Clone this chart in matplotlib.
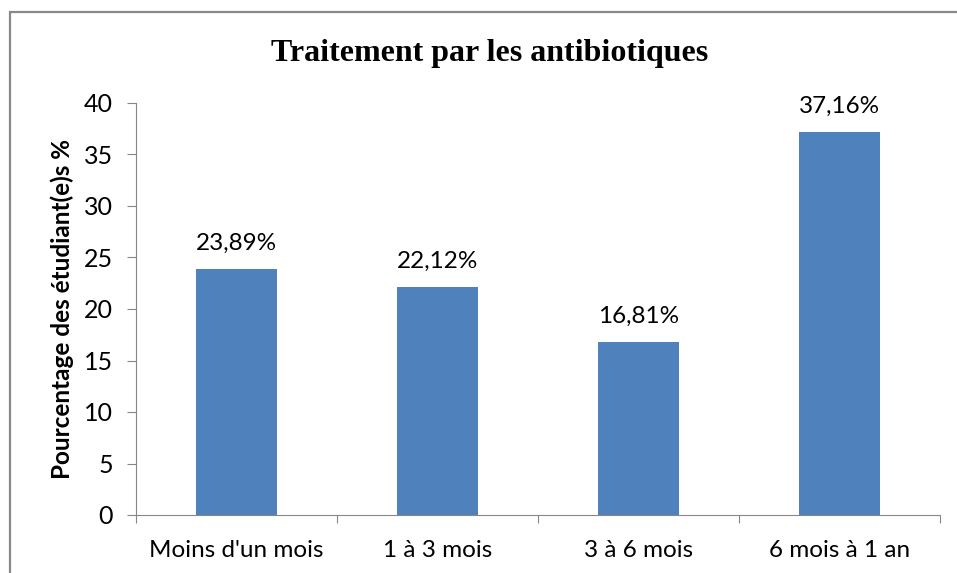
import matplotlib
matplotlib.use('Agg')
import matplotlib.pyplot as plt
from matplotlib.patches import Rectangle

# data
categories = ["Moins d'un mois", "1 à 3 mois", "3 à 6 mois", "6 mois à 1 an"]
values = [23.89, 22.12, 16.81, 37.16]
labels = ["23,89%", "22,12%", "16,81%", "37,16%"]

plt.rcParams['font.family'] = ['Lato', 'DejaVu Sans']

fig = plt.figure(figsize=(9.57, 5.73), dpi=100)
ax = fig.add_axes([136/957, 1-515/573, (940-136)/957, (515-103)/573])

# chart border
fig.patches.append(Rectangle((10/957, -0.1), 1.1, 1-12/573+0.1, transform=fig.transFigure,
                             fill=False, edgecolor='#898989', lw=1.6))

x = range(len(categories))
ax.bar(x, values, width=0.4, color='#4f81bd')
for i, v in enumerate(values):
    ax.text(i, v + 1.5, labels[i], ha='center', va='bottom', fontsize=17.5)

ax.set_xlim(-0.5, len(categories) - 0.5)
ax.set_ylim(0, 40)
ax.set_yticks(range(0, 41, 5))
ax.set_xticks([i - 0.5 for i in range(len(categories) + 1)], minor=False)
ax.set_xticklabels([])
ax.set_xticks(list(x), minor=True)
ax.set_xticklabels(categories, minor=True, fontsize=17.5)
ax.tick_params(axis='x', which='minor', length=0, pad=18)
ax.tick_params(axis='x', which='major', length=6, color='#868686')
ax.tick_params(axis='y', length=6.5, color='#868686', labelsize=18, pad=10)

for s in ['top', 'right']:
    ax.spines[s].set_visible(False)
ax.spines['left'].set_color('#868686')
ax.spines['bottom'].set_color('#868686')

ax.set_ylabel("Pourcentage des étudiant(e)s %", fontsize=17.5, fontweight='bold', va='center')
ax.yaxis.set_label_coords((62-136)/804, 0.5)
fig.text(490/957, 1-53/573, "Traitement par les antibiotiques", ha='center', va='center',
         fontsize=23, fontweight='bold', family=['Liberation Serif', 'DejaVu Serif'])

fig.savefig('out.png', dpi=100)
